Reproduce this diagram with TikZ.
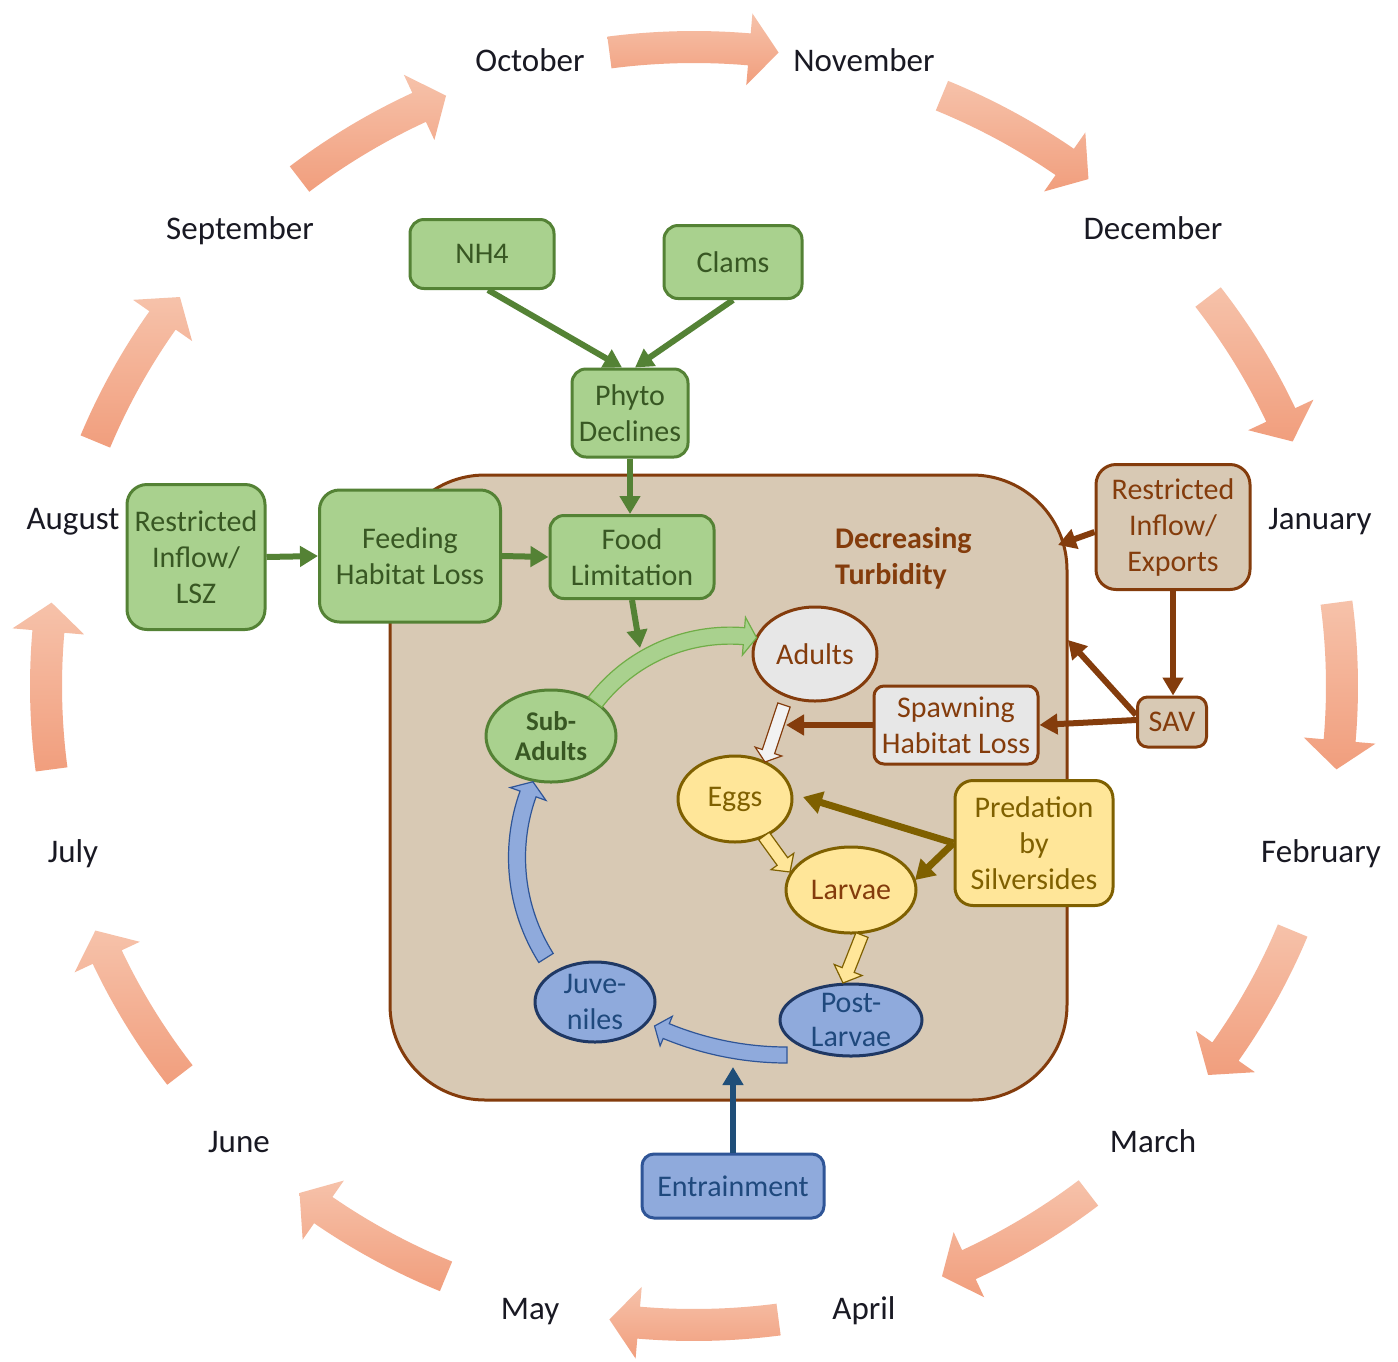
\documentclass[tikz,border=0pt]{standalone}
\usepackage{fontspec}
\setmainfont{Carlito}
\usetikzlibrary{arrows.meta,calc,shapes.geometric}

\definecolor{gfill}{RGB}{169,209,142}
\definecolor{gline}{RGB}{84,130,53}
\definecolor{gtext}{RGB}{56,87,35}
\definecolor{gblkline}{RGB}{112,173,71}
\definecolor{tanfill}{RGB}{216,201,180}
\definecolor{brn}{RGB}{132,60,12}
\definecolor{yfill}{RGB}{255,230,153}
\definecolor{yline}{RGB}{127,96,0}
\definecolor{bfill}{RGB}{143,170,220}
\definecolor{bline}{RGB}{31,56,100}
\definecolor{btext}{RGB}{31,73,125}
\definecolor{entline}{RGB}{47,85,151}
\definecolor{bluearrow}{RGB}{31,78,121}
\definecolor{lgray}{RGB}{231,231,231}
\definecolor{wfill}{RGB}{242,242,242}
\definecolor{salL}{RGB}{246,194,170}
\definecolor{salD}{RGB}{241,158,125}
\definecolor{mtext}{RGB}{25,25,35}

\newcommand{\dtext}{\fontsize{30}{36}\selectfont}
\newcommand{\mtextfont}{\fontsize{33}{40}\selectfont}

% month arrow: #1 = centre angle (image convention, y down)
\newcommand{\marrow}[1]{%
  \pgfmathsetmacro{\aS}{#1-7.5}%
  \pgfmathsetmacro{\aT}{#1+7.5}%
  \pgfmathsetmacro{\aB}{#1+4.9}%
  \shade[top color=salL, bottom color=salD]
    ($(mc)+(\aS:664 and 655)$) arc[start angle=\aS, end angle=\aB, x radius=664, y radius=655]
    -- ($(mc)+(\aB:684 and 675)$) -- ($(mc)+(\aT:648 and 639)$)
    -- ($(mc)+(\aB:612 and 603)$) -- ($(mc)+(\aB:632 and 623)$)
    arc[start angle=\aB, end angle=\aS, x radius=632, y radius=623] -- cycle;}

% straight block arrow: style, from, to, half shaft, half head, head length
\newcommand{\sblk}[6]{%
  \path (#3) coordinate (bt) ($(#3)!#6!(#2)$) coordinate (bh);
  \filldraw[#1] ($(#2)!#4!90:(#3)$) -- ($(bh)!#4!90:(bt)$) -- ($(bh)!#5!90:(bt)$)
    -- (bt) -- ($(bh)!#5!-90:(bt)$) -- ($(bh)!#4!-90:(bt)$) -- ($(#2)!#4!-90:(#3)$) -- cycle;}

% curved block arrow: style, centre, R, start angle, head-base angle, tip angle, half shaft, half head
\newcommand{\cblk}[8]{%
  \filldraw[#1] ($(#2)+({#4}:{#3+#7})$) arc[start angle=#4, end angle=#5, radius={#3+#7}]
    -- ($(#2)+({#5}:{#3+#8})$) -- ($(#2)+({#6}:{#3})$) -- ($(#2)+({#5}:{#3-#8})$)
    -- ($(#2)+({#5}:{#3-#7})$) arc[start angle=#5, end angle=#4, radius={#3-#7}] -- cycle;}

\begin{document}
\begin{tikzpicture}[x=1pt,y=-1pt,
  box/.style={rectangle, rounded corners=14pt, line width=3pt, inner sep=0pt, align=center, font=\dtext},
  gbox/.style={box, fill=gfill, draw=gline, text=gtext},
  brbox/.style={box, fill=tanfill, draw=brn, text=brn},
  ell/.style={ellipse, line width=3pt, inner sep=-20pt, align=center, font=\dtext},
  month/.style={font=\mtextfont, text=mtext, anchor=base, inner sep=0pt},
  garr/.style={draw=gline, line width=6pt, -{Triangle[length=18pt,width=20pt]}},
  barr/.style={draw=brn, line width=6pt, -{Triangle[length=18pt,width=20pt]}},
  yarr/.style={draw=yline, line width=7pt, -{Triangle[length=19pt,width=22pt]}},
  blarr/.style={draw=bluearrow, line width=6pt, -{Triangle[length=18pt,width=20pt]}},
  gblk/.style={fill=gfill, draw=gblkline, line width=1.2pt},
  bblk/.style={fill=bfill, draw=entline, line width=1.2pt},
  yblk/.style={fill=yfill, draw=yline, line width=1.2pt},
  wblk/.style={fill=wfill, draw=brn, line width=1.2pt}
]
\useasboundingbox (0,0) rectangle (1398,1361);
\fill[white] (0,0) rectangle (1398,1361);

% month cycle
\coordinate (mc) at (694,686);
\foreach \k in {0,...,11}{\marrow{-90+30*\k}}

\node[month] (oct) at (530,71) {October};
\node[month] (nov) at (864,71) {November};
\node[month] (dec) at (1153,239) {December};
\node[month] (jan) at (1320,529) {January};
\node[month] (feb) at (1321,862) {February};
\node[month] (mar) at (1153,1152) {March};
\node[month] (apr) at (864,1319) {April};
\node[month] (may) at (530,1319) {May};
\node[month] (jun) at (239,1152) {June};
\node[month] (jul) at (73,862) {July};
\node[month] (aug) at (73,529) {August};
\node[month] (sep) at (240,239) {September};

% central box
\node[draw=brn, fill=tanfill, line width=3pt, rounded corners=95pt, minimum width=677pt,
      minimum height=625pt, inner sep=0pt] (bigbox) at (728.5,787.5) {};
\node[anchor=west, align=left, font=\bfseries\dtext, text=brn, inner sep=0pt] (turb) at (835,558) {Decreasing\\Turbidity};

% boxes
\node[gbox, minimum width=144pt, minimum height=69pt] (nh4) at (482,254) {NH4};
\node[gbox, minimum width=138pt, minimum height=73pt] (clams) at (733,262) {Clams};
\node[gbox, minimum width=116pt, minimum height=88pt] (phyto) at (630,413) {Phyto\\Declines};
\node[gbox, minimum width=138pt, minimum height=145pt, rounded corners=20pt] (rilsz) at (196,557) {Restricted\\Inflow/\\LSZ};
\node[gbox, minimum width=181pt, minimum height=132pt, rounded corners=20pt] (feed) at (410,556) {Feeding\\Habitat Loss};
\node[gbox, minimum width=164pt, minimum height=83pt] (food) at (632,557) {Food\\Limitation};
\node[brbox, minimum width=154pt, minimum height=125pt, rounded corners=20pt] (rie) at (1173,527) {Restricted\\Inflow/\\Exports};
\node[brbox, minimum width=69pt, minimum height=50pt, rounded corners=10pt] (sav) at (1172,722) {SAV};
\node[brbox, fill=lgray, minimum width=164pt, minimum height=78pt, rounded corners=10pt] (spawn) at (956,725) {Spawning\\Habitat Loss};
\node[box, fill=yfill, draw=yline, text=yline, minimum width=158pt, minimum height=125pt, rounded corners=18pt] (pred) at (1034,843) {Predation\\by\\Silversides};
\node[box, fill=bfill, draw=entline, text=btext, minimum width=182pt, minimum height=64pt, rounded corners=12pt] (entr) at (733,1186) {Entrainment};

% life stages
\node[ell, fill=lgray, draw=brn, text=brn, minimum width=124pt, minimum height=94pt] (adults) at (815,654) {Adults};
\node[ell, fill=gfill, draw=gline, text=gtext, font=\bfseries\fontsize{27}{30}\selectfont, minimum width=130pt, minimum height=92pt] (sub) at (551,736) {Sub-\\Adults};
\node[ell, fill=yfill, draw=yline, text=yline, minimum width=114pt, minimum height=86pt] (eggs) at (735,799) {Eggs};
\node[ell, fill=yfill, draw=yline, text=brn, minimum width=130pt, minimum height=86pt] (larvae) at (851,890) {Larvae};
\node[ell, fill=bfill, draw=bline, text=btext, font=\fontsize{30}{34}\selectfont, minimum width=142pt, minimum height=72pt] (post) at (851,1020) {Post-\\Larvae};
\node[ell, fill=bfill, draw=bline, text=btext, minimum width=120pt, minimum height=80pt] (juv) at (595,1002) {Juve-\\niles};

% block arrows of the life cycle
\cblk{gblk}{730,805.6}{170}{-142.5}{-85.3}{-81}{8.5}{19}
\cblk{bblk}{705.5,857.5}{188.5}{-212.2}{-160.3}{-156.3}{8.5}{19}
\cblk{bblk}{787,738}{317}{-270}{-247.6}{-245.3}{8}{16}
\coordinate (ae1) at (784,705); \coordinate (ae2) at (765,762);
\sblk{wblk}{ae1}{ae2}{6.5pt}{14pt}{11pt}
\coordinate (el1) at (764,836); \coordinate (el2) at (790,872);
\sblk{yblk}{el1}{el2}{6.5pt}{14pt}{13pt}
\coordinate (lp1) at (862,935); \coordinate (lp2) at (843,983);
\sblk{yblk}{lp1}{lp2}{6.5pt}{15pt}{14pt}

% connectors
\coordinate (foodtip) at (640,648);
\coordinate (rietip) at (1058,545);
\coordinate (savtip) at (1068,640);
\coordinate (spawntip) at (786,725);
\coordinate (entrtip) at (733,1067);
\coordinate (predeggs) at (803,797);
\coordinate (predlarv) at (915,880);

\draw[garr] ($(nh4.south)+(6,0)$) -- ($(phyto.north)+(-8,0)$);
\draw[garr] (clams.south) -- ($(phyto.north)+(5,0)$);
\draw[garr] (phyto.south) -- (phyto.south |- food.north);
\draw[garr] (rilsz.east) -- (feed.west);
\draw[garr] (feed.east) -- (food.west);
\draw[garr] (food.south) -- (foodtip);
\draw[barr] ($(rie.west)+(0,5)$) -- (rietip);
\draw[barr] (rie.south) -- (rie.south |- sav.north);
\draw[barr] ($(sav.west)+(0,-7)$) -- (savtip);
\draw[barr] ($(sav.west)+(0,-2)$) -- (spawn.east);
\draw[barr] (spawn.west) -- (spawntip);
\draw[yarr] (pred.west) -- (predeggs);
\draw[yarr] (pred.west) -- (predlarv);
\draw[blarr] (entr.north) -- (entrtip);
\end{tikzpicture}
\end{document}
